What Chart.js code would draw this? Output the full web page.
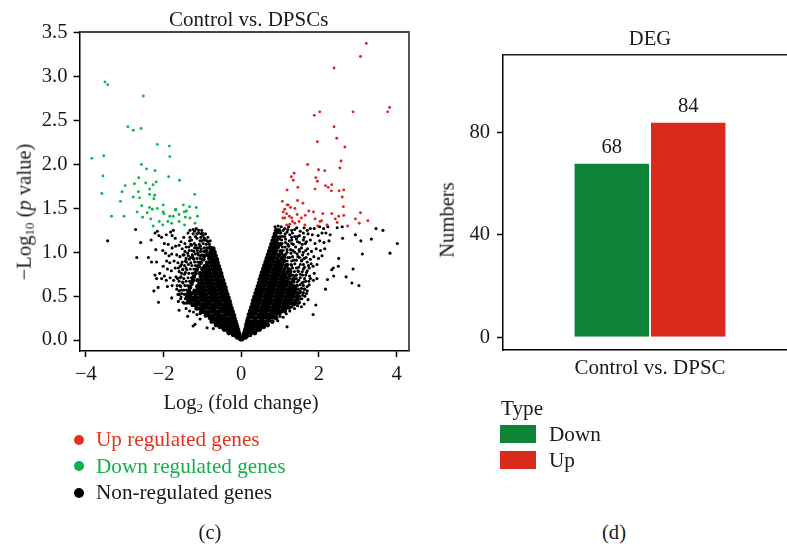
<!DOCTYPE html>
<html><head><meta charset="utf-8">
<script src="https://cdn.jsdelivr.net/npm/chart.js@4/dist/chart.umd.min.js"></script>
<style>
html,body{margin:0;padding:0;background:#fff;width:787px;height:544px;overflow:hidden}
#page{position:relative;width:787px;height:544px;overflow:hidden;font-family:"Liberation Serif",serif;font-size:20.6px;color:#1a1a1a}
canvas{position:absolute;top:0}
.t{position:absolute;white-space:nowrap;line-height:1;transform:translateY(-50%)}
.c{transform:translate(-50%,-50%)}
.r{transform:translate(-50%,-50%) rotate(-90deg)}
.l{font-size:21.2px}
.dot{position:absolute;width:10px;height:10px;border-radius:50%;transform:translate(-50%,-50%)}
.sw{position:absolute;width:36px;height:18px}
sub{font-size:13px;line-height:0;vertical-align:-3px}
</style></head><body>
<div id="page">
<canvas id="volcano" width="430" height="420" style="left:0"></canvas>
<canvas id="deg" width="377" height="420" style="left:430px"></canvas>
<div class="t r" style="left:24px;top:212px">−Log<sub>10</sub> (<i>p</i> value)</div>
<div class="t c" style="left:241px;top:402px">Log<sub>2</sub> (fold change)</div>
<div class="t r" style="left:447px;top:220px">Numbers</div>
<div class="dot" style="left:78.5px;top:440px;background:#e5331f"></div>
<div class="t l" style="left:96px;top:440px;color:#e5331f">Up regulated genes</div>
<div class="dot" style="left:78.5px;top:466px;background:#13b04a"></div>
<div class="t l" style="left:96px;top:467px;color:#13b04a">Down regulated genes</div>
<div class="dot" style="left:78.5px;top:493px;background:#000"></div>
<div class="t l" style="left:96px;top:493px">Non-regulated genes</div>
<div class="t c" style="left:210px;top:532px">(c)</div>
<div class="t l" style="left:501px;top:409px">Type</div>
<div class="sw" style="left:500px;top:425px;background:#0e8438"></div>
<div class="t l" style="left:549px;top:435px">Down</div>
<div class="sw" style="left:500px;top:451px;background:#d92b1b"></div>
<div class="t l" style="left:549px;top:461px">Up</div>
<div class="t c" style="left:614px;top:532px">(d)</div>
</div>
<script>
const xTicks=[-4,-2,0,2,4];
const yTicks=[0,0.5,1,1.5,2,2.5,3,3.5];
const upGenes=[[3.22,3.38],[3.07,3.23],[2.39,3.10],[2.02,2.60],[1.88,2.56],[2.88,2.60],[3.82,2.65],[3.77,2.60],[2.39,2.43],[2.46,2.30],[1.96,2.26],[2.67,2.20],[2.57,2.04],[1.71,2.00],[2.54,1.96],[1.99,1.94],[2.15,1.93],[1.36,1.90],[1.29,1.86],[1.34,1.82],[1.92,1.85],[1.96,1.81],[1.46,1.74],[2.17,1.76],[2.24,1.74],[2.33,1.77],[2.32,1.70],[1.18,1.71],[1.90,1.72],[2.52,1.70],[2.64,1.71],[2.60,1.63],[1.45,1.59],[1.06,1.58],[1.59,1.56],[1.18,1.54],[1.21,1.54],[1.27,1.51],[1.38,1.50],[1.12,1.49],[2.63,1.52],[1.08,1.46],[1.17,1.44],[1.24,1.41],[1.07,1.39],[1.12,1.39],[1.30,1.39],[1.44,1.43],[1.55,1.39],[1.65,1.42],[1.74,1.47],[1.86,1.46],[2.10,1.44],[2.33,1.44],[2.51,1.41],[2.64,1.42],[3.07,1.45],[2.94,1.38],[3.26,1.36],[3.04,1.33],[2.74,1.30],[2.42,1.38],[2.47,1.34],[1.90,1.38],[2.07,1.36],[2.03,1.35],[1.97,1.30],[2.21,1.31],[1.64,1.31],[1.49,1.35],[1.32,1.35],[1.17,1.31],[1.25,1.32],[1.38,1.33]];
const downGenes=[[-3.51,2.94],[-3.44,2.91],[-2.52,2.78],[-2.92,2.43],[-2.78,2.39],[-2.58,2.41],[-2.16,2.23],[-1.85,2.21],[-1.84,2.09],[-3.85,2.07],[-3.54,2.10],[-2.57,2.00],[-2.44,1.95],[-2.22,1.93],[-3.56,1.87],[-2.64,1.85],[-1.87,1.86],[-1.59,1.82],[-2.46,1.79],[-2.19,1.80],[-2.27,1.77],[-2.75,1.78],[-2.99,1.76],[-2.36,1.72],[-3.07,1.69],[-2.65,1.69],[-3.59,1.67],[-2.36,1.66],[-2.23,1.65],[-1.20,1.66],[-2.78,1.63],[-2.62,1.62],[-2.25,1.61],[-3.11,1.58],[-2.56,1.53],[-2.01,1.54],[-1.49,1.54],[-1.33,1.52],[-1.16,1.51],[-2.36,1.51],[-2.29,1.49],[-2.16,1.50],[-1.69,1.49],[-3.34,1.41],[-3.02,1.41],[-2.68,1.46],[-2.42,1.45],[-2.54,1.40],[-2.33,1.38],[-2.11,1.35],[-2.27,1.30],[-2.02,1.31],[-1.99,1.44],[-2.01,1.46],[-1.84,1.41],[-1.75,1.41],[-1.60,1.43],[-1.69,1.48],[-1.47,1.46],[-1.41,1.47],[-1.44,1.40],[-1.32,1.39],[-1.13,1.41],[-1.89,1.35],[-1.79,1.33],[-1.60,1.35],[-1.46,1.31],[-1.19,1.33]];
const nonOutliers=[[3.47,1.27],[3.65,1.25],[4.02,1.10],[3.83,.99],[3.35,1.15],[2.94,1.20],[3.08,1.13],[3.12,.98],[2.61,1.16],[2.60,1.29],[2.47,1.28],[2.51,.93],[2.50,.84],[2.37,.82],[2.33,.80],[2.38,.73],[2.88,.81],[2.70,.72],[2.85,.65],[3.03,.62],[2.22,.69],[2.17,.58],[1.92,.40],[1.85,.29],[1.18,.15],[-3.44,1.13],[-2.72,1.26],[-2.59,1.11],[-2.69,.94],[-2.32,1.14],[-2.39,.94],[-2.31,.89],[-2.18,.89],[-2.20,1.03],[-2.13,.43],[-2.25,.56],[-2.14,.60],[-2.22,.74],[-2.18,.70],[-2.05,.70],[-2.10,.76],[-1.79,.48],[-1.60,.34],[-1.24,.16],[-1.19,.18],[-.88,.14],[-.72,.13],[-1.06,.24]];
const nonLeftScatter=[[-2.22,1.22],[-2.16,1.24],[-2.12,1.19],[-2.05,1.17],[-1.93,1.20],[-1.82,1.23],[-1.75,1.25],[-1.78,1.19],[-1.70,1.16],[-1.55,1.12],[-1.48,1.17],[-1.37,1.22],[-1.32,1.25],[-1.24,1.26],[-1.16,1.27],[-1.09,1.22],[-1.03,1.21],[-.98,1.19],[-.92,1.14],[-.85,1.12],[-1.02,1.13],[-1.14,1.16],[-1.21,1.10],[-1.33,1.13],[-1.42,1.06],[-1.52,1.04],[-1.60,1.08],[-1.69,1.07],[-1.78,1.05],[-1.88,1.09],[-1.98,1.10],[-2.02,1.02],[-1.95,.99],[-1.86,.96],[-1.79,.98],[-1.66,.97],[-1.58,.95],[-1.47,.97],[-1.38,.99],[-1.27,1.02],[-1.15,1.05],[-1.05,1.07],[-1.92,.90],[-1.84,.88],[-1.73,.90],[-1.63,.88],[-1.54,.86],[-1.44,.90],[-1.34,.92],[-1.24,.94],[-2.01,.84],[-1.90,.81],[-1.80,.79],[-1.70,.82],[-1.60,.78],[-1.51,.80],[-1.42,.82],[-1.98,.73],[-1.93,.68],[-1.83,.71],[-1.74,.68],[-1.64,.70],[-1.55,.72],[-1.46,.75],[-1.90,.61],[-1.78,.62],[-1.66,.58],[-1.58,.62],[-1.50,.65],[-1.63,.52],[-1.55,.49],[-1.48,.57],[-1.50,.43],[-1.42,.36],[-1.33,.33],[-1.38,.27],[-1.23,.32],[-1.14,.29],[-1.06,.30],[-1.62,.44],[-1.28,1.08],[-1.12,.99],[-1.05,.96],[-.95,1.05],
[-1.33,.42],[-1.41,.42],[-1.47,.42],[-1.44,.47],[-1.56,.47],[-1.46,.52],[-1.53,.53],[-1.59,.52],[-1.41,.57],[-1.54,.57],[-1.60,.56],[-1.38,.62],[-1.45,.62],[-1.56,.61],[-1.65,.62],[-1.33,.67],[-1.42,.67],[-1.51,.66],[-1.60,.67],[-1.28,.71],[-1.37,.71],[-1.48,.70],[-1.58,.71],[-1.68,.72],[-1.26,.76],[-1.35,.76],[-1.44,.77],[-1.54,.76],[-1.22,.81],[-1.31,.81],[-1.40,.80],[-1.50,.81],[-1.62,.82],[-1.18,.85],[-1.27,.85],[-1.36,.86],[-1.46,.85],[-1.57,.84],[-1.12,.89],[-1.20,.89],[-1.30,.88],[-1.41,.89],[-1.52,.89],[-1.06,.93],[-1.14,.93],[-1.22,.92],[-1.30,.94],[-1.42,.93],[-1.02,.97],[-1.10,.97],[-1.18,.98],[-1.26,.97],[-1.36,.96],[-1.50,.97],[-.97,1.01],[-1.05,1.01],[-1.13,1.02],[-1.22,1.01],[-1.34,1.02],[-1.45,1.01],[-.88,1.05],[-1.03,1.04],[-1.10,1.05],[-1.20,1.05],[-1.35,1.06],[-.82,1.09],[-.90,1.09],[-.98,1.10],[-1.08,1.09],[-1.17,1.08],[-1.30,1.09],[-1.45,1.10],[-.80,1.13],[-.88,1.13],[-.97,1.14],[-1.06,1.13],[-1.28,1.14],[-.86,1.17],[-.95,1.16],[-1.04,1.17],[-1.18,1.18],[-1.32,1.17],[-.92,1.21],[-1.00,1.22],[-1.14,1.21],[-1.24,1.21],[-1.02,1.25],[-1.10,1.25],[-1.20,1.24]];
const nonRightScatter=[[.87,1.29],[.95,1.30],[1.03,1.29],[1.12,1.27],[1.22,1.29],[1.30,1.25],[1.43,1.28],[1.52,1.24],[1.62,1.28],[1.78,1.27],[1.88,1.27],[2.02,1.29],[2.12,1.27],[2.23,1.29],[2.29,1.20],[2.18,1.22],[2.08,1.22],[1.98,1.19],[1.83,1.20],[1.72,1.21],[1.62,1.17],[1.50,1.19],[1.38,1.18],[1.25,1.20],[1.13,1.21],[1.06,1.18],[1.14,1.11],[1.24,1.13],[1.34,1.09],[1.45,1.12],[1.57,1.09],[1.68,1.12],[1.78,1.14],[1.90,1.10],[2.02,1.13],[2.13,1.11],[2.26,1.13],[2.15,1.04],[2.04,1.02],[1.93,1.04],[1.81,1.01],[1.71,1.04],[1.60,1.00],[1.49,1.03],[1.38,1.00],[1.27,1.03],[1.18,1.00],[1.25,.94],[1.35,.91],[1.46,.95],[1.56,.91],[1.67,.94],[1.78,.92],[1.87,.95],[1.99,.93],[2.08,.96],[1.95,.86],[1.85,.84],[1.73,.85],[1.63,.83],[1.52,.86],[1.42,.82],[1.30,.85],[1.88,.76],[1.76,.73],[1.68,.77],[1.58,.74],[1.47,.78],[1.38,.73],[1.95,.70],[1.86,.68],[1.75,.63],[1.66,.67],[1.56,.65],[1.48,.68],[1.70,.56],[1.62,.58],[1.52,.56],[1.72,.46],[1.64,.50],[1.56,.47],[1.50,.43],[1.62,.41],[1.55,.38],[1.45,.39],[1.37,.36],[1.30,.38],[1.25,.33],[1.16,.30],[1.08,.26],[1.00,.27],[.94,.22],[1.45,.62],[1.30,.42],
[1.42,.42],[1.48,.42],[1.47,.46],[1.53,.47],[1.50,.50],[1.58,.51],[1.52,.54],[1.60,.54],[1.68,.53],[1.47,.58],[1.55,.59],[1.64,.58],[1.42,.62],[1.52,.63],[1.60,.62],[1.70,.61],[1.36,.66],[1.44,.66],[1.60,.66],[1.74,.67],[1.42,.70],[1.52,.71],[1.63,.70],[1.78,.70],[1.33,.74],[1.42,.74],[1.52,.75],[1.66,.74],[1.28,.78],[1.37,.78],[1.46,.79],[1.57,.78],[1.70,.79],[1.20,.82],[1.32,.82],[1.48,.83],[1.60,.81],[1.75,.82],[1.20,.86],[1.28,.86],[1.38,.87],[1.60,.86],[1.80,.87],[1.18,.90],[1.30,.90],[1.42,.91],[1.55,.90],[1.70,.89],[1.12,.94],[1.20,.94],[1.32,.95],[1.50,.94],[1.62,.93],[1.05,.98],[1.15,.98],[1.28,.99],[1.44,.98],[1.58,.97],[1.72,.98],[1.08,1.02],[1.18,1.03],[1.33,1.02],[1.50,1.01],[1.66,1.02],[1.06,1.06],[1.13,1.06],[1.22,1.07],[1.40,1.06],[1.55,1.05],[.96,1.10],[1.05,1.10],[1.20,1.09],[1.30,1.10],[1.50,1.11],[1.65,1.10],[.94,1.14],[1.04,1.14],[1.14,1.15],[1.30,1.14],[1.42,1.15],[1.60,1.14],[.92,1.18],[1.00,1.18],[1.12,1.18],[1.30,1.17],[1.45,1.18],[.92,1.22],[1.02,1.22],[1.18,1.23],[1.32,1.22],[1.60,1.22],[.90,1.26],[.98,1.26],[1.08,1.25],[1.20,1.26],[1.38,1.26],[1.70,1.25]];
const nonCoreLeft=[[-.02,.01],[-.04,.03],[-.10,.03],[-.05,.06],[-.13,.05],[-.21,.06],[-.07,.09],[-.15,.08],[-.24,.09],[-.32,.08],[-.09,.12],[-.17,.11],[-.26,.12],[-.35,.11],[-.44,.12],[-.11,.15],[-.19,.14],[-.28,.15],[-.37,.15],[-.46,.14],[-.55,.15],[-.13,.18],[-.21,.18],[-.30,.18],[-.39,.17],[-.48,.18],[-.57,.18],[-.65,.17],[-.15,.21],[-.24,.21],[-.33,.21],[-.42,.21],[-.51,.22],[-.60,.21],[-.69,.21],[-.76,.21],[-.17,.24],[-.26,.25],[-.35,.24],[-.44,.25],[-.53,.24],[-.62,.25],[-.71,.24],[-.80,.25],
[-.19,.28],[-.28,.28],[-.37,.29],[-.46,.28],[-.55,.28],[-.64,.29],[-.73,.28],[-.82,.28],[-.91,.28],[-.22,.32],[-.31,.32],[-.40,.32],[-.49,.33],[-.58,.32],[-.67,.32],[-.76,.33],[-.85,.32],[-.94,.32],[-1.03,.32],[-.25,.36],[-.34,.36],[-.43,.36],[-.52,.36],[-.61,.37],[-.70,.36],[-.79,.36],[-.88,.37],[-.97,.36],[-1.06,.36],[-1.15,.36],[-.28,.40],[-.37,.40],[-.46,.40],[-.55,.41],[-.64,.40],[-.73,.40],[-.82,.41],[-.91,.40],[-1.00,.40],[-1.09,.41],[-1.18,.40],[-1.25,.40],[-.30,.44],[-.39,.44],[-.48,.45],[-.57,.44],[-.66,.44],[-.75,.45],[-.84,.44],[-.93,.44],[-1.02,.45],[-1.11,.44],[-1.20,.44],[-1.28,.45],[-1.36,.44],
[-.33,.48],[-.42,.48],[-.51,.49],[-.60,.48],[-.69,.48],[-.78,.49],[-.87,.48],[-.96,.48],[-1.05,.49],[-1.14,.48],[-1.23,.48],[-1.32,.49],[-1.40,.48],[-.36,.52],[-.45,.52],[-.54,.53],[-.63,.52],[-.72,.52],[-.81,.53],[-.90,.52],[-.99,.52],[-1.08,.53],[-1.17,.52],[-1.28,.53],[-1.38,.52],[-.39,.56],[-.48,.56],[-.57,.57],[-.66,.56],[-.75,.56],[-.84,.57],[-.93,.56],[-1.02,.56],[-1.11,.57],[-1.20,.56],[-1.35,.56],[-.41,.60],[-.50,.60],[-.59,.61],[-.68,.60],[-.77,.60],[-.86,.61],[-.95,.60],[-1.04,.60],[-1.13,.61],[-1.32,.60],[-.44,.64],[-.53,.64],[-.62,.65],[-.71,.64],[-.80,.64],[-.89,.65],[-.98,.64],[-1.07,.64],[-1.28,.64],[-.47,.68],[-.56,.68],[-.65,.69],[-.74,.68],[-.83,.68],[-.92,.69],[-1.01,.68],[-1.12,.68],[-1.24,.68],
[-.50,.72],[-.59,.72],[-.68,.73],[-.77,.72],[-.86,.72],[-.95,.73],[-1.04,.72],[-1.22,.72],[-.52,.76],[-.61,.76],[-.70,.77],[-.79,.76],[-.88,.76],[-.97,.77],[-1.06,.76],[-1.18,.76],[-.55,.80],[-.64,.80],[-.73,.81],[-.82,.80],[-.91,.80],[-1.00,.81],[-1.15,.80],[-.58,.84],[-.67,.84],[-.76,.85],[-.85,.84],[-.94,.84],[-1.10,.84],[-.61,.88],[-.70,.88],[-.79,.89],[-.88,.88],[-1.05,.88],[-.63,.92],[-.72,.92],[-.82,.93],[-.98,.92],[-.66,.96],[-.75,.96],[-.85,.97],[-.95,.96],[-.69,1.00],[-.78,1.00],[-.90,1.01],[-.72,1.04],[-.80,1.05]];
const nonCoreRight=[[.02,.01],[.05,.03],[.11,.03],[.07,.06],[.15,.05],[.23,.06],[.09,.09],[.17,.08],[.26,.09],[.35,.08],[.11,.12],[.20,.11],[.29,.12],[.38,.11],[.47,.12],[.13,.15],[.22,.14],[.31,.15],[.40,.15],[.49,.14],[.58,.15],[.14,.18],[.23,.18],[.32,.18],[.41,.17],[.50,.18],[.59,.18],[.68,.17],[.16,.22],[.25,.21],[.34,.22],[.43,.21],[.52,.22],[.61,.21],[.70,.22],[.80,.21],[.18,.25],[.27,.26],[.36,.25],[.45,.26],[.54,.25],[.63,.26],[.72,.25],[.81,.26],[.90,.25],
[.20,.29],[.29,.29],[.38,.30],[.47,.29],[.56,.29],[.65,.30],[.74,.29],[.83,.29],[.92,.30],[.99,.31],[.23,.33],[.32,.33],[.41,.34],[.50,.33],[.59,.33],[.68,.34],[.77,.33],[.86,.33],[.95,.34],[1.04,.33],[1.12,.33],[.26,.37],[.35,.37],[.44,.38],[.53,.37],[.62,.37],[.71,.38],[.80,.37],[.89,.37],[.98,.38],[1.07,.37],[1.16,.37],[1.24,.37],[.29,.41],[.38,.41],[.47,.42],[.56,.41],[.65,.41],[.74,.42],[.83,.41],[.92,.41],[1.01,.42],[1.10,.41],[1.19,.41],[1.28,.42],[1.36,.41],[.31,.45],[.40,.45],[.49,.46],[.58,.45],[.67,.45],[.76,.46],[.85,.45],[.94,.45],[1.03,.46],[1.12,.45],[1.21,.45],[1.30,.46],[1.40,.45],
[.34,.49],[.43,.49],[.52,.50],[.61,.49],[.70,.49],[.79,.50],[.88,.49],[.97,.49],[1.06,.50],[1.15,.49],[1.24,.49],[1.33,.50],[1.43,.49],[.37,.53],[.46,.53],[.55,.54],[.64,.53],[.73,.53],[.82,.54],[.91,.53],[1.00,.53],[1.09,.54],[1.18,.53],[1.27,.53],[1.36,.54],[1.45,.53],[.40,.57],[.49,.57],[.58,.58],[.67,.57],[.76,.57],[.85,.58],[.94,.57],[1.03,.57],[1.12,.58],[1.21,.57],[1.30,.57],[1.40,.58],[.43,.61],[.52,.61],[.61,.62],[.70,.61],[.79,.61],[.88,.62],[.97,.61],[1.06,.61],[1.15,.62],[1.24,.61],[1.34,.61],[.46,.65],[.55,.65],[.64,.66],[.73,.65],[.82,.65],[.91,.66],[1.00,.65],[1.09,.65],[1.18,.66],[1.28,.65],[.48,.69],[.57,.69],[.66,.70],[.75,.69],[.84,.69],[.93,.70],[1.02,.69],[1.11,.69],[1.22,.70],[1.34,.69],
[.51,.73],[.60,.73],[.69,.74],[.78,.73],[.87,.73],[.96,.74],[1.05,.73],[1.14,.73],[1.26,.74],[.54,.77],[.63,.77],[.72,.78],[.81,.77],[.90,.77],[.99,.78],[1.08,.77],[1.19,.77],[.57,.81],[.66,.81],[.75,.82],[.84,.81],[.93,.81],[1.02,.82],[1.11,.81],[1.24,.80],[.60,.85],[.69,.85],[.78,.86],[.87,.85],[.96,.85],[1.05,.86],[1.16,.85],[.63,.89],[.72,.89],[.81,.90],[.90,.89],[.99,.89],[1.10,.90],[.66,.93],[.75,.93],[.84,.94],[.93,.93],[1.04,.93],[.69,.97],[.78,.97],[.87,.98],[.97,.97],[1.10,.96],[.72,1.01],[.81,1.01],[.90,1.02],[1.02,1.01],[.75,1.05],[.84,1.05],[.94,1.06],[.78,1.09],[.87,1.09],[1.00,1.09],[.81,1.13],[.90,1.13],[.84,1.17],[.96,1.16],[.87,1.21],[.98,1.23],[.90,1.25]];
const barLabels=["Control vs. DPSC"];
const downCount=[68];
const upCount=[84];
const barTicks=[0,40,80];

const FONT="'Liberation Serif',serif";
Chart.defaults.font.family=FONT;
Chart.defaults.font.size=20.6;
Chart.defaults.color="#1a1a1a";
Chart.defaults.animation=false;
Chart.defaults.responsive=false;
Chart.defaults.devicePixelRatio=1;

const toXY=p=>({x:p[0],y:p[1]});
const pts=(d,c,r)=>({data:d.map(toXY),backgroundColor:c,borderWidth:0,pointRadius:r,pointBorderWidth:0,pointHoverRadius:r});
const frame={id:"frame",
 beforeDraw(c){const s=c.options.plugins.frame.titleShift||0;if(s&&!c.$shifted){c.titleBlock.left+=s;c.titleBlock.right+=s;c.$shifted=true;}},
 afterDatasetsDraw(c){const a=c.chartArea,x=c.ctx;x.save();x.strokeStyle=c.options.plugins.frame.color;x.lineWidth=c.options.plugins.frame.width;x.beginPath();x.moveTo(a.left,a.top);x.lineTo(a.right,a.top);x.lineTo(a.right,a.bottom);x.stroke();x.restore();}};
const barValues={id:"barValues",afterDatasetsDraw(c){const x=c.ctx;x.save();x.font="20.6px "+FONT;x.fillStyle="#1a1a1a";x.textAlign="center";x.textBaseline="alphabetic";c.data.datasets.forEach((d,i)=>{c.getDatasetMeta(i).data.forEach((b,j)=>{x.fillText(String(d.data[j]),b.x,b.y-9.5);});});x.restore();}};
const axisCommon=(vals,fmt,size,pad)=>({
  afterBuildTicks:s=>{s.ticks=vals.map(v=>({value:v}));},
  grid:{display:true,drawOnChartArea:false,tickLength:6,tickColor:"#000",tickWidth:1.5},
  border:{display:true,color:"#000",width:1.5},
  ticks:{padding:pad,autoSkip:false,maxRotation:0,callback:fmt,color:"#1a1a1a"},
  afterFit:size
});
new Chart(document.getElementById("volcano"),{type:"scatter",plugins:[frame],
 data:{datasets:[pts(upGenes,"#dc2522",1.45),pts(downGenes,"#10b44c",1.45),pts(nonOutliers.concat(nonLeftScatter,nonRightScatter),"#000",1.55),pts(nonCoreLeft.concat(nonCoreRight),"#000",2.4)]},
 options:{layout:{padding:{top:10.15,right:21,left:0,bottom:0}},
  plugins:{legend:{display:false},tooltip:{enabled:false},frame:{color:"#444",width:1.8,titleShift:4.5},
   title:{display:true,fullSize:false,text:"Control vs. DPSCs",color:"#1a1a1a",font:{size:21,weight:"normal",lineHeight:1},padding:{top:0,bottom:0.85}}},
  scales:{
   x:Object.assign(axisCommon(xTicks,v=>String(v).replace("-","−"),s=>{s.height=69;},5),{type:"linear",min:-4.165,max:4.32}),
   y:Object.assign(axisCommon(yTicks,v=>v.toFixed(1),s=>{s.width=79.5;},6),{type:"linear",min:-0.125,max:3.51})
  }}});
new Chart(document.getElementById("deg"),{type:"bar",plugins:[frame,barValues],
 data:{labels:barLabels,datasets:[
  {label:"Down",data:downCount,backgroundColor:"#0e8438",borderColor:"rgba(255,255,255,.6)",borderWidth:1},
  {label:"Up",data:upCount,backgroundColor:"#d92b1b",borderColor:"rgba(255,255,255,.6)",borderWidth:1}]},
 options:{layout:{padding:{top:29.15,right:10,left:0,bottom:0}},
  datasets:{bar:{categoryPercentage:.52,barPercentage:1}},
  plugins:{legend:{display:false},tooltip:{enabled:false},frame:{color:"#222",width:1.5},
   title:{display:true,fullSize:false,text:"DEG",color:"#1a1a1a",font:{size:20.6,weight:"normal",lineHeight:1},position:"top",padding:{top:0,bottom:4.95}}},
  scales:{
   x:{grid:{display:false},border:{display:true,color:"#000",width:1.5},ticks:{padding:-2,color:"#1a1a1a",font:{size:21}},afterFit:s=>{s.height=70;}},
   y:Object.assign(axisCommon(barTicks,v=>String(v),s=>{s.width=73;},7),{min:-5,max:110.2})
  }}});
</script>
</body></html>
